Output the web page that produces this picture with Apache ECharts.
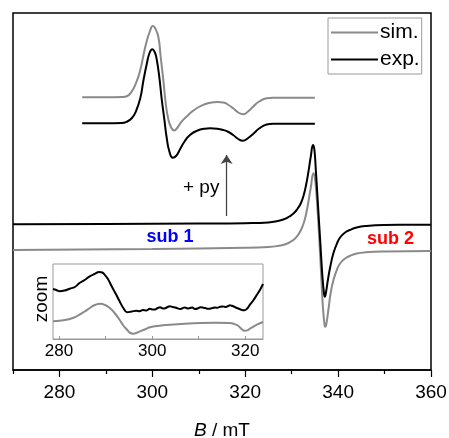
<!DOCTYPE html>
<html>
<head>
<meta charset="utf-8">
<script src="https://cdn.jsdelivr.net/npm/echarts@6/dist/echarts.min.js"></script>
<style>
html,body{margin:0;padding:0;background:#fff;}
#c{width:449px;height:438px;}
</style>
</head>
<body>
<div id="c"></div>
<script>
// ---- data (B in mT, intensity in arbitrary units) ----
const majorTicks = [280, 300, 320, 340, 360];
const minorTicks = [270, 290, 310, 330, 350];
const zoomLabelTicks = [280, 300, 320];
const zoomTicks = [280, 290, 300, 310, 320];

const mainExp = [[270,145.7],[290,146],[310,146.4],[320,146.8],[325,147.5],[327,149],[328.5,151],[329.5,153.5],[330.5,157],[331.3,161.5],[332,167],[332.6,175],[333.1,185],[333.6,198],[334.1,213],[334.6,225],[334.9,220],[335.2,200],[335.5,178],[335.8,155],[336.2,125],[336.6,95],[337.0,75],[337.15,73.3],[337.4,78],[337.8,90],[338.3,103],[339,117],[339.8,127],[340.5,133],[341.5,137.5],[342.5,140],[344,142.5],[346,144],[350,145],[355,145.2],[360,145.3]];
const mainSim = [[270,120],[300,121],[320,122.2],[325,123],[327,124],[328.5,125.5],[329.5,127.5],[330.5,130.5],[331.3,134.5],[332,140],[332.6,147],[333.1,156],[333.6,168],[334.1,182],[334.7,196.7],[335.0,192],[335.3,178],[335.6,158],[335.9,135],[336.3,100],[336.7,65],[337.1,44],[337.25,43.3],[337.5,47],[337.9,60],[338.4,77],[339,90],[339.8,101],[340.5,107],[341.5,111.5],[342.5,114],[344,116.5],[346,117.7],[350,118.5],[360,119]];

const pyExp = [[284.9,246.7],[290,246.7],[293.4,246.9],[294.6,248.5],[295.6,252],[296.5,259],[297.4,271.7],[298.1,290],[298.8,306],[299.4,317],[300.0,320.7],[300.5,318],[300.9,311.7],[301.5,293],[302.0,271.7],[302.6,250],[303.1,232],[303.7,218],[304.4,212.3],[305.1,214],[306.0,221],[307,229],[308.1,235],[309.5,239],[311.3,241.3],[312.4,241.7],[314,241.3],[315.3,240],[316.4,238],[317.4,235],[318.5,231],[319.5,229.3],[320.5,231.5],[321.7,236],[323,241.5],[324.6,245.5],[326,246.3],[330,246.3],[335.0,246.3]];
const pySim = [[284.9,272.7],[290,272.7],[293.5,273],[294.5,273.8],[295.5,278],[296.6,288.3],[297.4,300],[298.1,315],[298.8,329],[299.5,339],[300.1,344],[300.6,342],[301.3,333],[301.8,313],[302.4,288.3],[302.9,266],[303.4,251.7],[304.0,243],[304.7,239.5],[305.5,243],[306.3,248.3],[307.4,253.5],[308.5,258.3],[310,263],[311.3,265.7],[312.4,267.3],[314,268],[315.3,267.6],[316.4,265],[317.4,261.7],[318.5,257.5],[319.6,255.7],[320.6,258.5],[321.7,263.3],[323,268.5],[324.6,271.7],[326,272.3],[330,272.3],[335.0,272.3]];

const zoomExp = [[278.7,50],[279.4,49],[280.1,47.7],[281.2,48.5],[282.3,50.3],[283.4,52],[284.4,56],[285.5,59],[286.6,62.7],[287.6,65],[288.6,67],[289.3,66.5],[289.8,64.3],[290.5,60],[291.3,52.7],[292.2,45],[293.0,37.7],[293.8,31],[294.6,26.7],[295.6,27.5],[296.6,28.3],[297.3,27.8],[298,29],[298.8,28.6],[299.5,30.3],[300.1,29.4],[300.6,29.5],[301.2,31],[301.7,31.7],[302.3,30.6],[302.8,30.8],[303.3,32],[303.8,32.7],[304.4,32],[305,31.5],[305.5,30.6],[306.0,30],[306.5,30.8],[307,31.5],[307.6,30.6],[308.1,31],[308.6,31.6],[309.2,30],[309.8,30.6],[310.3,31.7],[310.9,31.4],[311.4,31],[311.9,30.2],[312.4,30.3],[313,31],[313.5,31.5],[314,31.2],[314.6,32.3],[315.2,32.6],[315.7,32],[316.2,32.8],[316.7,33.7],[317.1,33.2],[317.5,32.5],[318.2,31],[319.0,29.5],[319.5,28.8],[319.8,28.7],[320.4,30.5],[321.0,34.3],[321.7,38.5],[322.5,44.3],[323.2,49.5],[323.8,55]];
const zoomSim = [[278.7,17.7],[280.5,18.5],[282.3,20],[283.4,21.8],[284.4,24.3],[285.5,27.5],[286.6,31],[287.7,34],[288.9,35.3],[289.9,34],[290.9,31],[292.0,25.5],[293.0,19.3],[293.8,13.5],[294.6,9.3],[295.3,6],[296.0,5.3],[296.7,6.3],[297.4,7.7],[298.5,9.8],[299.5,11.7],[301.5,13.3],[303.8,14.3],[307,15.3],[310.3,16],[313.5,16.2],[316.7,16],[317.6,15],[318.4,13.5],[319.2,10],[319.8,8.3],[320.4,8.6],[321.0,10.3],[322.5,14.3],[323.8,17]];

const arrowB = 316.0, arrowFrom = 154, arrowTo = 215;

const FONT = "'Liberation Sans', Arial, sans-serif";
const GRAY = '#8a8a8a';

const chart = echarts.init(document.getElementById('c'));
chart.setOption({
  animation: false,
  backgroundColor: '#fff',
  textStyle: {fontFamily: FONT},
  grid: [
    {left: 13, right: 18, top: 13, bottom: 68, show: true, borderColor: '#000', borderWidth: 1.5, containLabel: false, outerBoundsMode: 'none'},
    {left: 53, top: 264, width: 210, height: 75, show: true, borderColor: '#999', borderWidth: 1, containLabel: false, outerBoundsMode: 'none'}
  ],
  legend: {
    data: ['sim.', 'exp.'],
    orient: 'vertical',
    left: 328, top: 18,
    padding: [4, 2, 4, 3],
    itemGap: 6,
    icon: 'rect',
    itemWidth: 47, itemHeight: 2,
    borderColor: '#999', borderWidth: 1,
    textStyle: {fontSize: 21, color: '#000', fontFamily: FONT, padding: [0,0,0,-3]}
  },
  xAxis: [
    {gridIndex: 0, type: 'value', min: 270, max: 360, position: 'bottom',
     axisLine: {show: true, lineStyle: {color: '#000', width: 1.5}},
     axisTick: {show: true, inside: false, length: 7, customValues: majorTicks, lineStyle: {color: '#000', width: 1.2}},
     axisLabel: {show: true, customValues: majorTicks, fontSize: 19, color: '#000', margin: 13, fontFamily: FONT},
     splitLine: {show: false},
     name: '{i|B} / mT', nameLocation: 'middle', nameGap: 51,
     nameTextStyle: {fontSize: 19, color: '#000', fontFamily: FONT, rich: {i: {fontStyle: 'italic', fontSize: 19, fontFamily: FONT}}}
    },
    {gridIndex: 0, type: 'value', min: 270, max: 360, position: 'bottom', offset: 0,
     axisLine: {show: false},
     axisTick: {show: true, inside: false, length: 4, customValues: minorTicks, lineStyle: {color: '#000', width: 1.2}},
     axisLabel: {show: false}, splitLine: {show: false}
    },
    {gridIndex: 1, type: 'value', min: 278.7, max: 323.8, position: 'bottom',
     axisLine: {show: true, lineStyle: {color: '#999', width: 1}},
     axisTick: {show: true, inside: true, length: 3, customValues: zoomTicks, lineStyle: {color: '#999'}},
     axisLabel: {show: true, customValues: zoomLabelTicks, fontSize: 17, color: '#000', margin: 4, fontFamily: FONT},
     splitLine: {show: false}
    }
  ],
  yAxis: [
    {gridIndex: 0, type: 'value', min: 0, max: 357, show: false, splitLine: {show: false}},
    {gridIndex: 1, type: 'value', min: 0, max: 75, show: false, splitLine: {show: false}}
  ],
  series: [
    {name: 'sim.', type: 'line', xAxisIndex: 0, yAxisIndex: 0, data: mainSim, symbol: 'none', smooth: 0.5,
     lineStyle: {color: GRAY, width: 2}, itemStyle: {color: GRAY}},
    {name: 'exp.', type: 'line', xAxisIndex: 0, yAxisIndex: 0, data: mainExp, symbol: 'none', smooth: 0.5,
     lineStyle: {color: '#000', width: 2}, itemStyle: {color: '#000'},
     markLine: {silent: true, symbol: ['none', 'arrow'], symbolSize: 9, label: {show: false},
       lineStyle: {color: '#444', width: 1.3, type: 'solid'},
       emphasis: {disabled: true},
       data: [[{coord: [arrowB, arrowFrom]}, {coord: [arrowB, arrowTo]}]]}},
    {name: 'py sim', type: 'line', xAxisIndex: 0, yAxisIndex: 0, data: pySim, symbol: 'none', smooth: 0.5,
     lineStyle: {color: GRAY, width: 2}},
    {name: 'py exp', type: 'line', xAxisIndex: 0, yAxisIndex: 0, data: pyExp, symbol: 'none', smooth: 0.5,
     lineStyle: {color: '#000', width: 2}},
    {name: 'zoom sim', type: 'line', xAxisIndex: 2, yAxisIndex: 1, data: zoomSim, symbol: 'none', smooth: 0.5,
     lineStyle: {color: GRAY, width: 2}},
    {name: 'zoom exp', type: 'line', xAxisIndex: 2, yAxisIndex: 1, data: zoomExp, symbol: 'none', smooth: 0.4,
     lineStyle: {color: '#000', width: 2}}
  ],
  graphic: [
    {type: 'text', left: 183, top: 178, style: {text: '+ py', fontSize: 19, fontFamily: FONT, fill: '#000'}},
    {type: 'text', x: 170, y: 237, style: {text: 'sub 1', fontSize: 18, fontWeight: 'bold', fontFamily: FONT, fill: '#0000ff', align: 'center', verticalAlign: 'middle'}},
    {type: 'text', x: 390.5, y: 239, style: {text: 'sub 2', fontSize: 18, fontWeight: 'bold', fontFamily: FONT, fill: '#ff0000', align: 'center', verticalAlign: 'middle'}},
    {type: 'text', x: 42, y: 299, rotation: Math.PI / 2, style: {text: 'zoom', fontSize: 19, fontFamily: FONT, fill: '#000', align: 'center', verticalAlign: 'middle'}}
  ]
});
</script>
</body>
</html>
